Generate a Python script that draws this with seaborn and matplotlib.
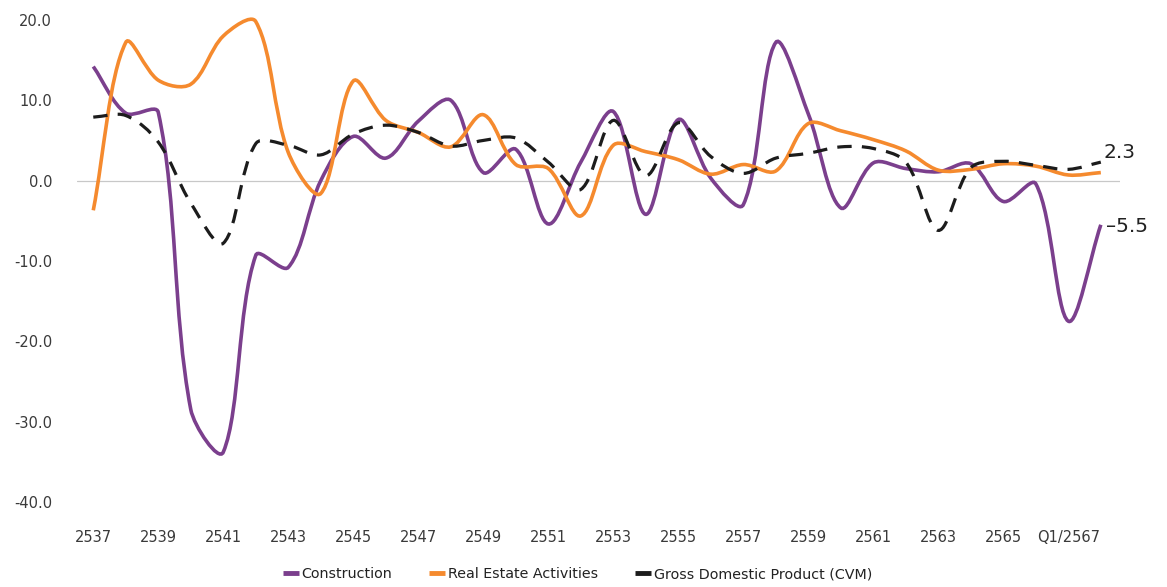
import numpy as np
import pandas as pd
import seaborn as sns
import matplotlib.pyplot as plt
from matplotlib.path import Path
from matplotlib.patches import PathPatch
from matplotlib.lines import Line2D

# growth (%), annual 2537-2566 then quarterly
periods = ["2537", "2538", "2539", "2540", "2541", "2542", "2543", "2544",
           "2545", "2546", "2547", "2548", "2549", "2550", "2551", "2552",
           "2553", "2554", "2555", "2556", "2557", "2558", "2559", "2560",
           "2561", "2562", "2563", "2564", "2565", "2566", "Q1/2567", "Q2/2567"]

construction = [14.2, 8.4, 8.5, -28.5, -33.8, -9.3, -10.8, 0.0,
                5.5, 2.8, 7.4, 10.0, 1.0, 3.9, -5.4, 2.3,
                8.6, -4.2, 7.6, 0.3, -3.0, 17.2, 8.3, -3.4,
                2.2, 1.5, 1.1, 2.1, -2.6, -0.4, -17.5, -5.5]

real_estate = [-3.7, 17.2, 12.5, 12.0, 18.0, 19.8, 3.5, -1.6,
               12.4, 7.5, 6.0, 4.2, 8.2, 2.0, 1.5, -4.4,
               4.4, 3.6, 2.6, 0.8, 2.0, 1.2, 7.1, 6.2,
               5.1, 3.7, 1.3, 1.4, 2.1, 1.8, 0.7, 1.0]

gdp = [7.9, 8.1, 4.8, -2.8, -7.8, 4.6, 4.4, 3.2,
       5.8, 6.9, 6.0, 4.3, 5.0, 5.3, 2.3, -1.1,
       7.5, 0.6, 7.2, 3.0, 0.9, 2.8, 3.4, 4.2,
       4.0, 2.3, -6.2, 1.6, 2.4, 1.9, 1.4, 2.3]

series_names = ["Construction", "Real Estate Activities", "Gross Domestic Product (CVM)"]
colors = ["#7b3f8d", "#f58a2e", "#1c1c1c"]

df = pd.DataFrame({
    "pos": list(range(len(periods))) * 3,
    "value": construction + real_estate + gdp,
    "series": [n for n in series_names for _ in periods],
})


def smooth_path(xy, trans):
    # excel-like smoothed line: cubic bezier, tangents scaled by screen segment lengths
    n = len(xy)
    d = trans.transform(xy)
    seg = np.hypot(*np.diff(d, axis=0).T)
    verts = [xy[0]]
    codes = [Path.MOVETO]
    for i in range(n - 1):
        i0, i3 = max(i - 1, 0), min(i + 2, n - 1)
        l01 = seg[i - 1] if i > 0 else 0.0
        l12 = seg[i]
        l23 = seg[i + 1] if i + 1 < n - 1 else 0.0
        c1 = xy[i] + (xy[i + 1] - xy[i0]) * l12 / (3 * (l01 + l12))
        c2 = xy[i + 1] - (xy[i3] - xy[i]) * l12 / (3 * (l12 + l23))
        verts += [c1, c2, xy[i + 1]]
        codes += [Path.CURVE4] * 3
    return Path(verts, codes)


sns.set_theme(style="white")
plt.rcParams["font.family"] = ["DejaVu Sans"]

fig = plt.figure(figsize=(11.67, 5.87), dpi=100)
ax = fig.add_axes([0.066, 0.145, 0.894, 0.821])

sns.lineplot(data=df, x="pos", y="value", hue="series", hue_order=series_names,
             palette=colors, ax=ax, legend=False)

ax.set_xlim(-0.5, 31.6)
ax.set_ylim(-40, 20)

styles = [dict(lw=2.6, ls="-"), dict(lw=2.6, ls="-"), dict(lw=2.3, ls=(0, (4.5, 3.2)))]
for line, col, st in zip(list(ax.lines), colors, styles):
    xy = line.get_xydata()
    patch = PathPatch(smooth_path(xy, ax.transData), facecolor="none", edgecolor=col,
                      linewidth=st["lw"], linestyle=st["ls"], capstyle="butt",
                      clip_on=False, zorder=3)
    ax.add_patch(patch)
    line.remove()

ax.axhline(0, color="#c8c8c8", lw=0.9, zorder=1)
ax.set_yticks(np.arange(-40, 21, 10))
ax.set_yticklabels([f"{v:.1f}" for v in np.arange(-40, 21, 10)])
ax.set_xticks(range(0, 31, 2))
ax.set_xticklabels([periods[i] for i in range(0, 31, 2)])
ax.tick_params(axis="x", length=0, pad=20, labelsize=10.5, labelcolor="#3a3a3a")
ax.tick_params(axis="y", length=0, pad=18, labelsize=10.5, labelcolor="#3a3a3a")
ax.set_xlabel("")
ax.set_ylabel("")
sns.despine(ax=ax, left=True, bottom=True)

ax.annotate("2.3", (31, gdp[-1]), xytext=(2, 7), textcoords="offset points",
            fontsize=14.5, color="#222222", va="center", ha="left")
ax.annotate("\u20135.5", (31, construction[-1]), xytext=(4, -1), textcoords="offset points",
            fontsize=14.5, color="#222222", va="center", ha="left")

handles = [Line2D([], [], color=c, lw=3.5, solid_capstyle="butt") for c in colors]
fig.legend(handles, series_names, loc="center", bbox_to_anchor=(0.495, 0.022),
           ncol=3, frameon=False, fontsize=10.3, handlelength=1.1,
           handletextpad=0.2, columnspacing=2.6, labelcolor="#222222")

fig.savefig("out.png", dpi=100)
